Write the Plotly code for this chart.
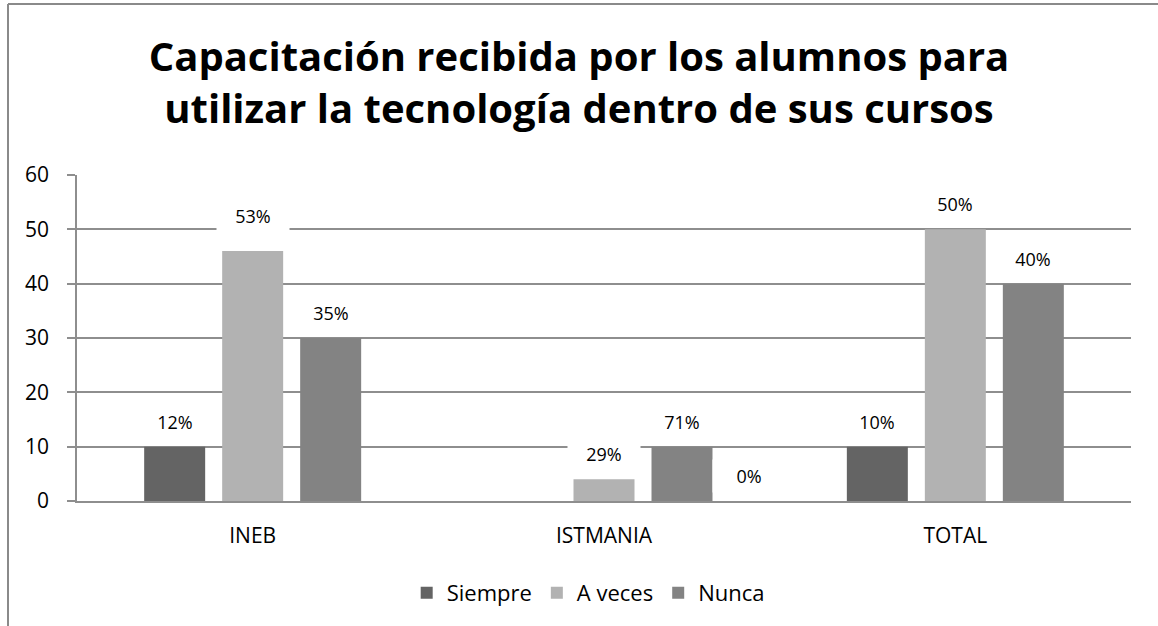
import plotly.graph_objects as go

categories = ["INEB", "ISTMANIA", "TOTAL"]
series_names = ["Siempre", "A veces", "Nunca"]
siempre = [10, 0, 10]
a_veces = [46, 4, 50]
nunca = [30, 10, 40]
label_siempre = ["12%", "0%", "10%"]
label_a_veces = ["53%", "29%", "50%"]
label_nunca = ["35%", "71%", "40%"]

values = [siempre, a_veces, nunca]
labels = [label_siempre, label_a_veces, label_nunca]
colors = ["#646464", "#b2b2b2", "#838383"]

FONT = "Open Sans"
GRID = "#8e8e8e"

fig = go.Figure()
for name, vals, col in zip(series_names, values, colors):
    fig.add_trace(go.Bar(x=categories, y=vals, name=name,
                         marker=dict(color=col, line=dict(width=0))))

# data label placement (pixel offsets)
slot_px = 78
default_yshift = 25
special = {(0, 1): dict(yshift=35),      # 53% label sits a bit higher
           (1, 0): dict(xshift=145)}     # 0% label moved right of group
annotations = []
for si in range(3):
    for ci, cat in enumerate(categories):
        xs = (si - 1) * slot_px
        ys = default_yshift
        sp = special.get((ci, si), {})
        xs = sp.get("xshift", xs)
        ys = sp.get("yshift", ys)
        annotations.append(dict(
            x=cat, y=values[si][ci], xref="x", yref="y",
            text=labels[si][ci], showarrow=False,
            xshift=xs, yshift=ys, bgcolor="white",
            width=72, height=32, borderpad=0,
            font=dict(family=FONT, size=18, color="#000000")))

fig.update_layout(
    width=1158, height=626,
    paper_bgcolor="white", plot_bgcolor="white",
    margin=dict(l=77, r=27, t=175, b=125),
    barmode="group", bargap=0.334, bargroupgap=0.218,
    title=dict(text="Capacitación recibida por los alumnos para<br>utilizar la tecnología dentro de sus cursos",
               x=0.5, xanchor="center", xref="container",
               y=1 - 71 / 626, yanchor="middle", yref="container",
               font=dict(family=FONT, size=40, color="#000000", weight="bold")),
    font=dict(family=FONT, color="#000000"),
    legend=dict(orientation="h", x=0.485, xanchor="center", y=-0.282, yanchor="middle",
                font=dict(family=FONT, size=22), itemwidth=30, traceorder="normal"),
    annotations=annotations,
    shapes=[
        dict(type="line", xref="paper", yref="paper",
             x0=(8 - 77) / 1054, x1=(8 - 77) / 1054,
             y0=1 + (175 - 4) / 326, y1=-(630 - 501) / 326,
             line=dict(color="#8a8a8a", width=2)),
        dict(type="line", xref="paper", yref="paper",
             x0=(8 - 77) / 1054, x1=(1160 - 77) / 1054,
             y0=1 + (175 - 4) / 326, y1=1 + (175 - 4) / 326,
             line=dict(color="#8a8a8a", width=2)),
    ],
)
fig.update_yaxes(range=[0, 60], dtick=10, showgrid=True, gridcolor=GRID, gridwidth=1.5,
                 showline=True, linecolor=GRID, linewidth=1.5,
                 ticks="outside", ticklen=8, tickcolor=GRID, tickwidth=1.5,
                 ticklabelstandoff=14, zeroline=False,
                 tickfont=dict(family=FONT, size=21, color="#000000"))
fig.update_xaxes(showline=True, linecolor=GRID, linewidth=1.5, ticks="",
                 ticklabelstandoff=15,
                 tickfont=dict(family=FONT, size=21, color="#000000"))

fig.write_html("out.html", config={"displayModeBar": False},
               post_script="document.body.style.margin='0';document.body.style.overflow='hidden';")
